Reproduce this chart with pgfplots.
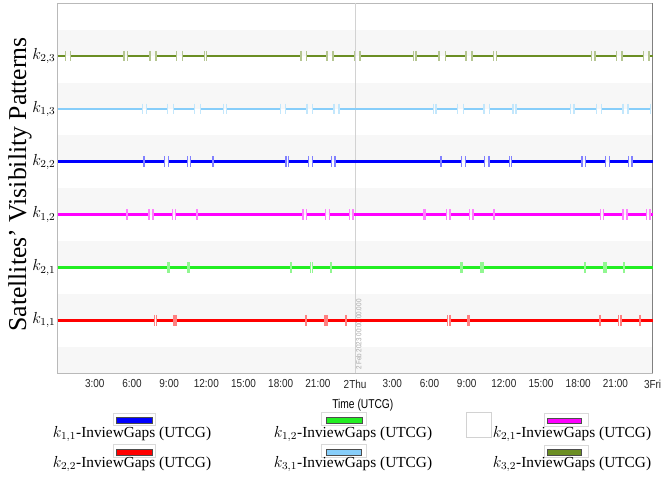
\documentclass[border=0pt]{standalone}
\usepackage{fontspec}
\setmainfont{Liberation Serif}
\newfontfamily\narrow[FakeStretch=0.86]{Liberation Sans}
\newfontfamily\xlabfont[FakeStretch=0.8]{Liberation Sans}
\usepackage{pgfplots}
\pgfplotsset{compat=1.18}
\usepackage{pgfplotstable}
\definecolor{colA}{HTML}{6B8E23}
\definecolor{colB}{HTML}{87CEFA}
\definecolor{colC}{HTML}{0000FF}
\definecolor{colD}{HTML}{FF00FF}
\definecolor{colE}{HTML}{22EE22}
\definecolor{colF}{HTML}{FF0000}
\definecolor{band}{HTML}{F7F7F7}

% k_{2,3}
\pgfplotstableread{
x y
0 6
0.65 6
nan nan
1.02 6
5.35 6
nan nan
5.62 6
7.45 6
nan nan
7.94 6
9.6 6
nan nan
10.06 6
11.83 6
nan nan
11.99 6
19.63 6
nan nan
20.06 6
21.73 6
nan nan
22.21 6
23.93 6
nan nan
24.39 6
28.69 6
nan nan
28.9 6
30.78 6
nan nan
31.27 6
32.94 6
nan nan
33.42 6
35.17 6
nan nan
35.41 6
43.07 6
nan nan
43.36 6
45.09 6
nan nan
45.54 6
47.29 6
nan nan
47.72 6
48 6
}\rowSix
% k_{1,3}
\pgfplotstableread{
x y
0 5
6.86 5
nan nan
7.19 5
8.88 5
nan nan
9.33 5
11.06 5
nan nan
11.51 5
13.4 5
nan nan
13.6 5
17.96 5
nan nan
18.36 5
20.11 5
nan nan
20.57 5
22.29 5
nan nan
22.69 5
30.35 5
nan nan
30.52 5
32.27 5
nan nan
32.72 5
34.41 5
nan nan
34.85 5
36.73 5
nan nan
36.99 5
41.35 5
nan nan
41.65 5
43.48 5
nan nan
43.9 5
45.62 5
nan nan
46.02 5
47.85 5
}\rowFive
% k_{2,2}
\pgfplotstableread{
x y
0 4
6.92 4
nan nan
7.0 4
8.6 4
nan nan
8.93 4
10.48 4
nan nan
10.74 4
12.48 4
nan nan
12.59 4
18.42 4
nan nan
18.64 4
20.22 4
nan nan
20.54 4
22.1 4
nan nan
22.37 4
30.88 4
nan nan
30.96 4
32.56 4
nan nan
32.91 4
34.44 4
nan nan
34.79 4
36.44 4
nan nan
36.6 4
42.31 4
nan nan
42.59 4
44.2 4
nan nan
44.54 4
46.08 4
nan nan
46.35 4
48 4
}\rowFour
% k_{1,2}
\pgfplotstableread{
x y
0 3
5.56 3
nan nan
5.64 3
7.37 3
nan nan
7.69 3
9.25 3
nan nan
9.52 3
11.18 3
nan nan
11.28 3
19.79 3
nan nan
20.06 3
21.62 3
nan nan
21.94 3
23.56 3
nan nan
23.82 3
29.53 3
nan nan
29.63 3
31.35 3
nan nan
31.65 3
33.23 3
nan nan
33.52 3
35.18 3
nan nan
35.26 3
43.8 3
nan nan
44.06 3
45.62 3
nan nan
45.94 3
47.51 3
nan nan
47.8 3
48 3
}\rowThree
% k_{2,1}
\pgfplotstableread{
x y
0 2
8.86 2
nan nan
9.0 2
10.48 2
nan nan
10.6 2
18.82 2
nan nan
18.89 2
20.4 2
nan nan
20.54 2
22.02 2
nan nan
22.09 2
32.55 2
nan nan
32.69 2
34.16 2
nan nan
34.31 2
42.5 2
nan nan
42.56 2
44.08 2
nan nan
44.23 2
45.68 2
nan nan
45.74 2
48 2
}\rowTwo
% k_{1,1}
\pgfplotstableread{
x y
0 1
7.84 1
nan nan
8.0 1
9.4 1
nan nan
9.55 1
20.02 1
nan nan
20.09 1
21.56 1
nan nan
21.72 1
23.23 1
nan nan
23.29 1
31.44 1
nan nan
31.65 1
33.11 1
nan nan
33.24 1
43.73 1
nan nan
43.8 1
45.27 1
nan nan
45.44 1
46.94 1
nan nan
47.0 1
48 1
}\rowOne

\pgfplotsset{
  segline/.style={#1, line width=2pt, no marks},
  thinline/.style={#1, line width=1.6pt, no marks},
  gapmark/.style={only marks, mark=|, mark size=4pt,
     mark options={#1!50, line width=1pt},
     restrict x to domain=0.01:47.99},
}

\begin{document}
\begin{tikzpicture}
\begin{axis}[
  at={(43.2pt,-279.75pt)}, anchor=south west,
  scale only axis, width=446.25pt, height=277.3pt,
  xmin=0, xmax=48, ymin=0, ymax=7,
  axis line style={gray!55, line width=0.6pt},
  xtick={3,6,...,48},
  xticklabels={3:00,6:00,9:00,12:00,15:00,18:00,21:00,2Thu,3:00,6:00,9:00,12:00,15:00,18:00,21:00,3Fri},
  minor x tick num=2,
  xtick pos=left,
  tick align=inside,
  major tick length=3pt, minor tick length=2pt,
  x tick style={gray!70, line width=0.5pt},
  ytick={1,2,3,4,5,6},
  yticklabels={$k_{1,1}$,$k_{2,1}$,$k_{1,2}$,$k_{2,2}$,$k_{1,3}$,$k_{2,3}$},
  y tick style={draw=none},
  ytick pos=left,
  xticklabel style={font=\narrow\fontsize{8.7}{10}\selectfont, text=black!85, yshift=-1.5pt},
  yticklabel style={font=\fontsize{12}{14}\selectfont, xshift=2pt},
  xlabel={Time (UTCG)},
  xlabel style={font=\xlabfont\fontsize{9.6}{11}\selectfont, at={(axis description cs:0.513,-0.086)}, anchor=center},
  ylabel={Satellites' Visibility Patterns},
  ylabel style={font=\fontsize{19.3}{22}\selectfont, at={(axis description cs:-0.0632,0.51)}, anchor=center},
  unbounded coords=jump,
  clip=false,
]
\fill[band] (axis cs:0,0) rectangle (axis cs:48,0.5);
\fill[band] (axis cs:0,1) rectangle (axis cs:48,1.5);
\fill[band] (axis cs:0,2) rectangle (axis cs:48,2.5);
\fill[band] (axis cs:0,3) rectangle (axis cs:48,3.5);
\fill[band] (axis cs:0,4) rectangle (axis cs:48,4.5);
\fill[band] (axis cs:0,5) rectangle (axis cs:48,5.5);
\fill[band] (axis cs:0,6) rectangle (axis cs:48,6.5);
\draw[gray!35, line width=0.8pt] (axis cs:24,0) -- (axis cs:24,7);
\draw[gray, line width=0.8pt] (axis cs:48,0) -- (axis cs:48,7);
\node[rotate=90, anchor=north west, font=\narrow\fontsize{5.5}{6}\selectfont, text=gray!70, inner sep=0.5pt] at (axis cs:24,0.04) {2 Feb 2023 00:00:00.000};

\addplot[thinline=colA] table {\rowSix};
\addplot[gapmark=colA] table {\rowSix};
\addplot[thinline=colB] table {\rowFive};
\addplot[gapmark=colB] table {\rowFive};
\addplot[segline=colC] table {\rowFour};
\addplot[gapmark=colC] table {\rowFour};
\addplot[segline=colD] table {\rowThree};
\addplot[gapmark=colD] table {\rowThree};
\addplot[segline=colE] table {\rowTwo};
\addplot[gapmark=colE] table {\rowTwo};
\addplot[segline=colF] table {\rowOne};
\addplot[gapmark=colF] table {\rowOne};
\end{axis}

\begin{scope}[x=0.75pt, y=-0.75pt]
  \tikzset{lgtxt/.style={font=\fontsize{11.5}{13}\selectfont, inner sep=0pt}}
  % column 1
  \draw[gray!30, fill=white] (113.7,413) rectangle (155.3,425);
  \draw[black!70, fill=colC, line width=0.6pt] (116.7,417) rectangle (152.3,423);
  \node[lgtxt] at (132,434) {$k_{1,1}$-InviewGaps (UTCG)};
  \draw[gray!30, fill=white] (113.7,444) rectangle (155.3,457);
  \draw[black!70, fill=colF, line width=0.6pt] (116.7,449) rectangle (152.3,455);
  \node[lgtxt] at (132,464) {$k_{2,2}$-InviewGaps (UTCG)};
  % column 2
  \draw[gray!30, fill=white] (321,412) rectangle (366,425);
  \draw[black!70, fill=colE, line width=0.6pt] (326,417) rectangle (362,423);
  \node[lgtxt] at (353,434) {$k_{1,2}$-InviewGaps (UTCG)};
  \draw[gray!30, fill=white] (321,444) rectangle (366,457);
  \draw[black!70, fill=colB, line width=0.6pt] (326,449) rectangle (361,455);
  \node[lgtxt] at (353,464) {$k_{3,1}$-InviewGaps (UTCG)};
  % column 3
  \draw[gray!35, fill=white] (466.7,412.7) rectangle (491.7,437.3);
  \draw[gray!30, fill=white] (544,413) rectangle (588,426);
  \draw[black!70, fill=colD, line width=0.6pt] (547,418) rectangle (581,423);
  \node[lgtxt] at (572,434) {$k_{2,1}$-InviewGaps (UTCG)};
  \draw[gray!30, fill=white] (544,445) rectangle (588,457);
  \draw[black!70, fill=colA, line width=0.6pt] (547,449) rectangle (581,455);
  \node[lgtxt] at (572,464) {$k_{3,2}$-InviewGaps (UTCG)};
\end{scope}

\pgfresetboundingbox
\useasboundingbox (0,0) rectangle (496.5pt,-357pt);
\end{tikzpicture}
\end{document}
